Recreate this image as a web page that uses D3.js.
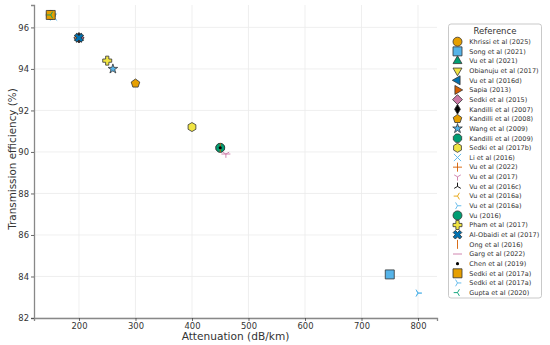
<!DOCTYPE html>
<html>
<head>
<meta charset="utf-8">
<script src="https://cdn.jsdelivr.net/npm/d3@7"></script>
<style>
  body { margin: 0; background: #fff; }
  text { font-family: "DejaVu Sans", sans-serif; fill: #333; }
</style>
</head>
<body>
<script>
// one entry per reference, in legend order
const studies = ["Khrissi et al (2025)", "Song et al (2021)", "Vu et al (2021)", "Obianuju et al (2017)",
  "Vu et al (2016d)", "Sapia (2013)", "Sedki et al (2015)", "Kandilli et al (2007)", "Kandilli et al (2008)",
  "Wang et al (2009)", "Kandilli et al (2009)", "Sedki et al (2017b)", "Li et al (2016)", "Vu et al (2022)",
  "Vu et al (2017)", "Vu et al (2016c)", "Vu et al (2016a)", "Vu et al (2016a)", "Vu (2016)",
  "Pham et al (2017)", "Al-Obaidi et al (2017)", "Ong et al (2016)", "Garg et al (2022)", "Chen et al (2019)",
  "Sedki et al (2017a)", "Sedki et al (2017a)", "Gupta et al (2020)"];
const attenuation = [150, 750, 200, 200, 200, 200, 200, 200, 300, 260, 450, 400, 155, 150,
  460, 150, 200, 800, 450, 250, 200, 450, 460, 450, 150, 800, 150];
const efficiency = [96.6, 84.1, 95.5, 95.5, 95.5, 95.5, 95.5, 95.5, 93.3, 94.0, 90.2, 91.2, 96.5, 96.6,
  89.9, 96.6, 95.5, 83.2, 90.2, 94.4, 95.5, 90.2, 89.9, 90.2, 96.6, 83.2, 96.6];
const markers = ["o", "s", "^", "v", "<", ">", "D", "d", "p", "*", "8", "h", "x", "+",
  "1", "2", "3", "4", "o", "P", "X", "|", "_", ".", "s", "4", "3"];
const colors = ["#E69F00", "#56B4E9", "#009E73", "#F0E442", "#0072B2", "#D55E00", "#CC79A7", "#000000",
  "#E69F00", "#56B4E9", "#009E73", "#F0E442", "#56B4E9", "#D55E00", "#CC79A7", "#000000", "#E69F00",
  "#56B4E9", "#009E73", "#F0E442", "#0072B2", "#D55E00", "#CC79A7", "#000000", "#E69F00", "#56B4E9", "#009E73"];
const xTicks = [200, 300, 400, 500, 600, 700, 800];
const yTicks = [82, 84, 86, 88, 90, 92, 94, 96];

const data = studies.map((s, i) => ({
  name: s, x: attenuation[i], y: efficiency[i], m: markers[i], c: colors[i]
}));

const width = 550, height = 345;
const margin = {left: 34, right: 113, top: 5, bottom: 27};

const svg = d3.select("body").append("svg")
  .attr("width", width).attr("height", height);

const x = d3.scaleLinear().domain([120.4, 833.6]).range([margin.left, width - margin.right]);
const y = d3.scaleLinear().domain([82, 97.08]).range([height - margin.bottom, margin.top]);

// grid
svg.append("g").selectAll("line").data(xTicks).enter().append("line")
  .attr("x1", d => x(d)).attr("x2", d => x(d))
  .attr("y1", y.range()[0]).attr("y2", y.range()[1])
  .attr("stroke", "#ebebeb").attr("stroke-width", 0.8);
svg.append("g").selectAll("line").data(yTicks).enter().append("line")
  .attr("y1", d => y(d)).attr("y2", d => y(d))
  .attr("x1", x.range()[0]).attr("x2", x.range()[1])
  .attr("stroke", "#ebebeb").attr("stroke-width", 0.8);

// axes
let xAxis = svg.append("g")
  .attr("transform", "translate(0," + y.range()[0] + ")")
  .call(d3.axisBottom(x).tickValues(xTicks).tickSize(3).tickPadding(2));
let yAxis = svg.append("g")
  .attr("transform", "translate(" + x.range()[0] + ",0)")
  .call(d3.axisLeft(y).tickValues(yTicks).tickSize(3).tickPadding(2));
[xAxis, yAxis].forEach(a => {
  a.select(".domain").attr("stroke", "#888").attr("stroke-width", 1.3);
  a.selectAll(".tick line").attr("stroke", "#444").attr("stroke-width", 0.8);
  a.selectAll(".tick text").attr("font-size", 8.4).style("font-family", "DejaVu Sans").attr("fill", "#333");
});

svg.append("text")
  .attr("x", (x.range()[0] + x.range()[1]) / 2).attr("y", 340)
  .attr("text-anchor", "middle").attr("font-size", 10.6)
  .text("Attenuation (dB/km)");
svg.append("text")
  .attr("transform", "translate(16,159) rotate(-90)")
  .attr("text-anchor", "middle").attr("font-size", 10.4)
  .text("Transmission efficiency (%)");

// marker paths, r = half size
function poly(n, r, rot) {
  let pts = d3.range(n).map(k => {
    let a = rot + k * 2 * Math.PI / n;
    return [r * Math.sin(a), -r * Math.cos(a)];
  });
  return "M" + pts.map(p => p.join(",")).join("L") + "Z";
}
function arms(r, angles) {
  return angles.map(a => "M0,0L" + (r * Math.sin(a)) + "," + (-r * Math.cos(a))).join("");
}
function markerPath(m, r) {
  switch (m) {
    case "o": return d3.symbol(d3.symbolCircle, Math.PI * r * r)();
    case "s": return "M" + -r + "," + -r + "H" + r + "V" + r + "H" + -r + "Z";
    case "^": return poly(3, r * 1.15, 0);
    case "v": return poly(3, r * 1.15, Math.PI);
    case "<": return poly(3, r * 1.15, -Math.PI / 2);
    case ">": return poly(3, r * 1.15, Math.PI / 2);
    case "D": return "M0," + -r * 1.1 + "L" + r * 1.1 + ",0L0," + r * 1.1 + "L" + -r * 1.1 + ",0Z";
    case "d": return "M0," + -r * 1.1 + "L" + r * 0.65 + ",0L0," + r * 1.1 + "L" + -r * 0.65 + ",0Z";
    case "p": return poly(5, r * 1.0, 0);
    case "*": return d3.symbol(d3.symbolStar, r * r * 1.4)();
    case "8": return poly(8, r, Math.PI / 8);
    case "h": return poly(6, r * 1.0, 0);
    case "x": return "M" + -r * 0.8 + "," + -r * 0.8 + "L" + r * 0.8 + "," + r * 0.8 +
      "M" + r * 0.8 + "," + -r * 0.8 + "L" + -r * 0.8 + "," + r * 0.8;
    case "+": return "M" + -r + ",0H" + r + "M0," + -r + "V" + r;
    case "1": return arms(r * 0.85, [Math.PI, -Math.PI / 3, Math.PI / 3]);
    case "2": return arms(r * 0.85, [0, 2 * Math.PI / 3, -2 * Math.PI / 3]);
    case "3": return arms(r * 0.85, [-Math.PI / 2, Math.PI / 6, 5 * Math.PI / 6]);
    case "4": return arms(r * 0.85, [Math.PI / 2, -Math.PI / 6, -5 * Math.PI / 6]);
    case "P": {
      let w = r * 0.36;
      return "M" + -w + "," + -r + "H" + w + "V" + -w + "H" + r + "V" + w + "H" + w + "V" + r +
        "H" + -w + "V" + w + "H" + -r + "V" + -w + "H" + -w + "Z";
    }
    case "X": return d3.symbol(d3.symbolCross, r * r * 2.3)() ;
    case "|": return "M0," + -r + "V" + r;
    case "_": return "M" + -r + ",0H" + r;
    case ".": return d3.symbol(d3.symbolCircle, Math.PI * r * r * 0.12)();
  }
}
const lineMarkers = ["x", "+", "1", "2", "3", "4", "|", "_"];
function styleMarker(sel) {
  sel.attr("d", d => markerPath(d.m, 4.5))
    .attr("transform", function(d) {
      let t = d3.select(this).attr("transform") || "";
      return d.m === "X" ? t + " rotate(45)" : t;
    })
    .attr("fill", d => lineMarkers.includes(d.m) ? "none" : d.c)
    .attr("stroke", d => lineMarkers.includes(d.m) ? d.c : (d.m === "." ? "none" : "#333"))
    .attr("stroke-width", d => lineMarkers.includes(d.m) ? 0.9 : 0.8);
}

svg.append("g").selectAll("path").data(data).enter().append("path")
  .attr("transform", d => "translate(" + x(d.x) + "," + y(d.y) + ")")
  .call(styleMarker);

// legend
const lg = svg.append("g").attr("transform", "translate(448.5,24)");
lg.append("rect").attr("width", 93).attr("height", 274).attr("rx", 2.5)
  .attr("fill", "#fff").attr("fill-opacity", 0.85)
  .attr("stroke", "#bbb").attr("stroke-width", 0.8);
lg.append("text").attr("x", 46.5).attr("y", 9.5).attr("text-anchor", "middle")
  .attr("font-size", 8.5).text("Reference");
const item = lg.selectAll("g.item").data(data).enter().append("g")
  .attr("class", "item")
  .attr("transform", (d, i) => "translate(0," + (17.7 + i * 9.65) + ")");
item.append("path")
  .attr("transform", "translate(9,0)")
  .call(styleMarker);
item.append("text").attr("x", 20.8).attr("y", 2.3)
  .attr("font-size", 6.5).text(d => d.name);
</script>
</body>
</html>
